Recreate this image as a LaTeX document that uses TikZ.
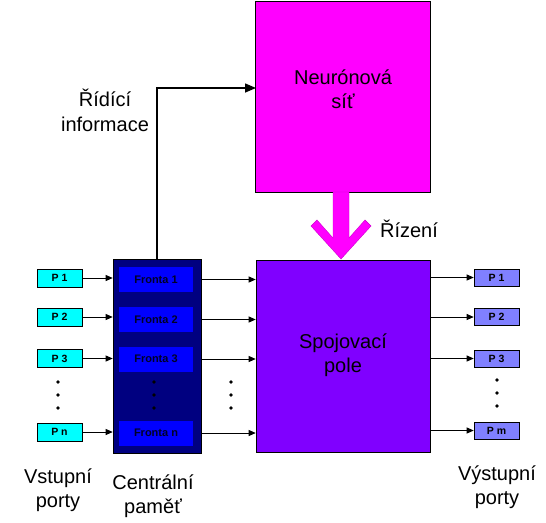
\documentclass[tikz,border=0pt]{standalone}
\usepackage{fontspec}
\setmainfont{Liberation Sans}
\usetikzlibrary{positioning, arrows.meta}

\definecolor{nncol}{HTML}{FF00FF}
\definecolor{spcol}{HTML}{8000FF}
\definecolor{memcol}{HTML}{000080}
\definecolor{frcol}{HTML}{0000FF}
\definecolor{pincol}{HTML}{00FFFF}
\definecolor{poutcol}{HTML}{8080FF}

\begin{document}
\begin{tikzpicture}[
  x=1pt, y=-1pt,
  blok/.style={rectangle,draw=black,line width=0.6pt,inner sep=0pt},
  portin/.style={blok,fill=pincol,minimum width=45pt,minimum height=18pt,font=\fontsize{10.5}{12}\selectfont\bfseries},
  portout/.style={blok,fill=poutcol,minimum width=45pt,minimum height=17pt,font=\fontsize{10.5}{12}\selectfont\bfseries},
  fronta/.style={rectangle,fill=frcol,minimum width=74pt,minimum height=25pt,inner sep=0pt,font=\fontsize{11}{12}\selectfont\bfseries,text=black!70!memcol},
  popis/.style={align=center,inner sep=0pt,font=\fontsize{20}{24.5}\selectfont},
  sipka/.style={-{Triangle[length=7pt,width=6pt]},line width=0.8pt}
]
  \useasboundingbox (0,0) rectangle (546,522);

  % velke bloky
  \node[blok,fill=nncol,minimum width=175pt,minimum height=191pt] (nn) at (343,96.5) {};
  \node[blok,fill=spcol,minimum width=174pt,minimum height=192pt] (sp) at (343,356) {};
  \node[blok,fill=memcol,minimum width=88pt,minimum height=194pt] (mem) at (157,356) {};

  \node[popis] at (343,89) {Neurónová\\síť};
  \node[popis] at (343,355) {Spojovací\\pole};

  % fronty
  \node[fronta] (f1) at (156,279.5) {Fronta 1};
  \node[fronta] (f2) at (156,319.5) {Fronta 2};
  \node[fronta] (f3) at (156,359)   {Fronta 3};
  \node[fronta] (fn) at (156,433)   {Fronta n};

  % vstupni porty
  \node[portin] (pi1) at (59.5,278)   {P 1};
  \node[portin] (pi2) at (59.5,317)   {P 2};
  \node[portin] (pi3) at (59.5,358.5) {P 3};
  \node[portin] (pin) at (59.5,432)   {P n};

  % vystupni porty
  \node[portout] (po1) at (496.5,277.5) {P 1};
  \node[portout] (po2) at (496.5,317)   {P 2};
  \node[portout] (po3) at (496.5,358.5) {P 3};
  \node[portout] (pom) at (496.5,430.5) {P m};

  \draw[sipka] (pi1.east) -- (pi1.east -| mem.west);
  \draw[sipka] (pi2.east) -- (pi2.east -| mem.west);
  \draw[sipka] (pi3.east) -- (pi3.east -| mem.west);
  \draw[sipka] (pin.east) -- (pin.east -| mem.west);

  \draw[sipka] (mem.east |- f1) -- (sp.west |- f1);
  \draw[sipka] (mem.east |- f2) -- (sp.west |- f2);
  \draw[sipka] (mem.east |- f3) -- (sp.west |- f3);
  \draw[sipka] (mem.east |- fn) -- (sp.west |- fn);

  \draw[sipka] (sp.east |- po1) -- (po1.west);
  \draw[sipka] (sp.east |- po2) -- (po2.west);
  \draw[sipka] (sp.east |- po3) -- (po3.west);
  \draw[sipka] (sp.east |- pom) -- (pom.west);

  % ridici informace
  \coordinate (ctl) at (256,88);
  \draw[-{Triangle[length=11pt,width=9pt]},line width=1.5pt] (mem.north) |- (ctl);
  \node[popis] at (105,110.5) {Řídící\\informace};

  % rizeni
  \draw[nncol!80!black,line width=0.4pt,fill=nncol]
    (333,192) -- (333,238) -- (317,220) -- (311,226) -- (341,259)
    -- (371,226) -- (365,220) -- (349,238) -- (349,192) -- cycle;
  \node[popis] at (409,229) {Řízení};

  % tecky
  \foreach \x in {58,154,231}
    \foreach \y in {382,395,408}
      \fill (\x,\y) circle (1.8pt);
  \foreach \y in {380,393,406}
    \fill (497,\y) circle (1.8pt);

  % popisky dole
  \node[popis] at (58,490)  {Vstupní\\porty};
  \node[popis] at (153,496) {Centrální\\paměť};
  \node[popis] at (497,487) {Výstupní\\porty};
\end{tikzpicture}
\end{document}
